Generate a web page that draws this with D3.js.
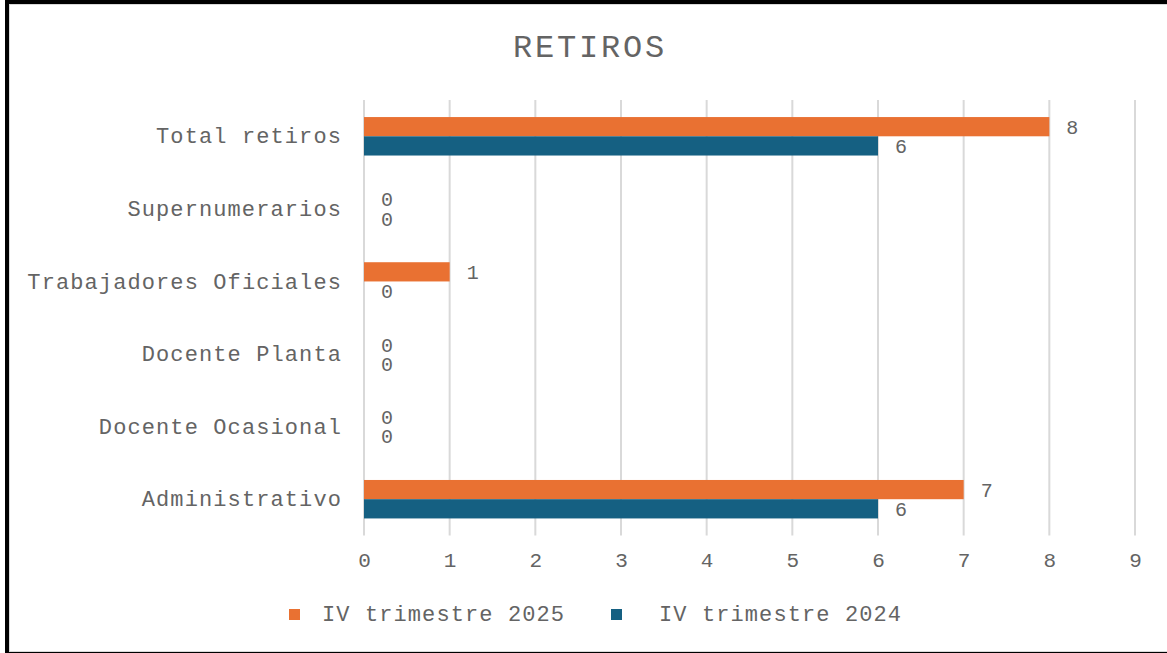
<!DOCTYPE html>
<html><head><meta charset="utf-8">
<script src="https://cdn.jsdelivr.net/npm/d3@7"></script>
<style>
body{margin:0;background:#fff;}
text{font-family:"Liberation Mono","Courier New",monospace;fill:#646464;}
</style></head>
<body><svg id="c" width="1167" height="653"></svg>
<script>
const categories = ["Total retiros","Supernumerarios","Trabajadores Oficiales","Docente Planta","Docente Ocasional","Administrativo"];
const seriesNames = ["IV trimestre 2025","IV trimestre 2024"];
const values2025 = [8,0,1,0,0,7];
const values2024 = [6,0,0,0,0,6];
const xTicks = [0,1,2,3,4,5,6,7,8,9];
const colors = ["#E97132","#156082"];
const title = "RETIROS";

const svg = d3.select("#c");
// frame
svg.append("rect").attr("x",5).attr("y",0).attr("width",1162).attr("height",653).attr("fill","#000");
svg.append("rect").attr("x",9.5).attr("y",4.5).attr("width",1160).attr("height",647).attr("fill","#fff").attr("stroke","#d9d9d9").attr("stroke-width",1);

const m = {left:364, right:1135, top:100, bottom:535.5};
const x = d3.scaleLinear().domain([0,9]).range([m.left,m.right]);
const y = d3.scaleBand().domain(categories).range([m.top,m.bottom]).paddingInner(0.47).paddingOuter(0.235);
const y2 = d3.scaleBand().domain([0,1]).range([0,y.bandwidth()]);

svg.append("text").attr("x",590).attr("y",57).attr("text-anchor","middle")
  .style("font-size","32px").style("letter-spacing","2.8px").text(title);

// grid
svg.append("g").selectAll("line").data(xTicks).join("line")
  .attr("x1",d=>x(d)).attr("x2",d=>x(d)).attr("y1",m.top).attr("y2",m.bottom)
  .attr("stroke","#d9d9d9").attr("stroke-width",2);

// x axis labels
const xa = svg.append("g").attr("transform",`translate(0,${m.bottom})`)
  .call(d3.axisBottom(x).tickValues(xTicks).tickSize(0).tickPadding(17));
xa.select(".domain").remove();
xa.selectAll("text").style("font-size","21px").style("font-family","\"Liberation Mono\",monospace").attr("fill","#646464");

// y axis labels
const ya = svg.append("g").attr("transform",`translate(${m.left},0)`)
  .call(d3.axisLeft(y).tickSize(0).tickPadding(22));
ya.select(".domain").remove();
ya.selectAll("text").style("font-size","22px").style("letter-spacing","1.1px").style("font-family","\"Liberation Mono\",monospace").attr("fill","#646464");

const series = [values2025, values2024];
series.forEach((vals,si)=>{
  const g = svg.append("g");
  g.selectAll("rect").data(categories).join("rect")
    .attr("x",x(0)).attr("y",(d)=>y(d)+y2(si))
    .attr("width",(d,i)=>x(vals[i])-x(0)).attr("height",y2.bandwidth())
    .attr("fill",colors[si]);
  g.selectAll("text").data(categories).join("text")
    .attr("x",(d,i)=>x(vals[i])+17).attr("y",(d)=>y(d)+y2(si)+y2.bandwidth()/2)
    .attr("dy","0.36em").style("font-size","20px").text((d,i)=>vals[i]);
});

// legend
const leg = [{x:289,tx:322},{x:611,tx:659}];
seriesNames.forEach((n,i)=>{
  svg.append("rect").attr("x",leg[i].x).attr("y",609).attr("width",11).attr("height",11).attr("fill",colors[i]);
  svg.append("text").attr("x",leg[i].tx).attr("y",621).style("font-size","22px").style("letter-spacing","1.1px").text(n);
});
</script></body></html>
